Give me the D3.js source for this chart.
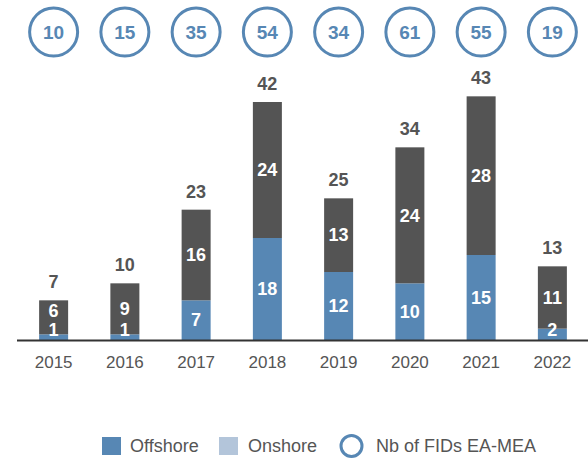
<!DOCTYPE html>
<html>
<head>
<meta charset="utf-8">
<script src="https://cdn.jsdelivr.net/npm/d3@7"></script>
<style>
  body { margin: 0; background: #fff; }
  svg { display: block; font-family: "Liberation Sans Narrow", "Arial Narrow", "Liberation Sans", sans-serif; }
</style>
</head>
<body>
<div id="app"></div>
<script>
const years = ['2015', '2016', '2017', '2018', '2019', '2020', '2021', '2022'];
const offshore = [1, 1, 7, 18, 12, 10, 15, 2];
const onshore = [6, 9, 16, 24, 13, 24, 28, 11];
const fids = [10, 15, 35, 54, 34, 61, 55, 19];

const width = 588;
const height = 460;
const blue = '#5787b4';
const gray = '#545454';
const textGray = '#555555';

const svg = d3.select('#app').append('svg')
	.attr('width', width)
	.attr('height', height);

const x = d3.scaleBand()
	.domain(years)
	.range([18, 588])
	.paddingInner(0.593)
	.paddingOuter(0.2965);

const y = d3.scaleLinear()
	.domain([0, 42])
	.range([340, 102]);

const rows = years.map((year, i) => ({
	year,
	offshore: offshore[i],
	onshore: onshore[i],
	total: offshore[i] + onshore[i],
	fids: fids[i],
}));

// bars
const bar = svg.selectAll('g.bar')
	.data(rows)
	.enter()
	.append('g')
	.attr('class', 'bar');

bar.append('rect')
	.attr('x', (d) => x(d.year))
	.attr('width', x.bandwidth())
	.attr('y', (d) => y(d.offshore))
	.attr('height', (d) => y(0) - y(d.offshore))
	.attr('fill', blue);

bar.append('rect')
	.attr('x', (d) => x(d.year))
	.attr('width', x.bandwidth())
	.attr('y', (d) => y(d.total))
	.attr('height', (d) => y(d.offshore) - y(d.total))
	.attr('fill', gray);

const cx = (d) => x(d.year) + x.bandwidth() / 2;
const offLabelY = (d) => Math.min((y(0) + y(d.offshore)) / 2, y(0) - 10);
const onLabelY = (d) => Math.min((y(d.offshore) + y(d.total)) / 2, offLabelY(d) - 19);

bar.append('text')
	.attr('x', cx)
	.attr('y', offLabelY)
	.attr('dy', '0.35em')
	.attr('text-anchor', 'middle')
	.attr('fill', 'white')
	.attr('font-weight', 'bold')
	.attr('font-size', 18)
	.text((d) => d.offshore);

bar.append('text')
	.attr('x', cx)
	.attr('y', onLabelY)
	.attr('dy', '0.35em')
	.attr('text-anchor', 'middle')
	.attr('fill', 'white')
	.attr('font-weight', 'bold')
	.attr('font-size', 18)
	.text((d) => d.onshore);

bar.append('text')
	.attr('x', cx)
	.attr('y', (d) => y(d.total) - 12)
	.attr('text-anchor', 'middle')
	.attr('fill', textGray)
	.attr('font-weight', 'bold')
	.attr('font-size', 18)
	.text((d) => d.total);

// circles
bar.append('circle')
	.attr('cx', cx)
	.attr('cy', 32)
	.attr('r', 24)
	.attr('fill', 'white')
	.attr('stroke', blue)
	.attr('stroke-width', 3);

bar.append('text')
	.attr('x', cx)
	.attr('y', 32)
	.attr('dy', '0.35em')
	.attr('text-anchor', 'middle')
	.attr('fill', blue)
	.attr('font-weight', 'bold')
	.attr('font-size', 19)
	.text((d) => d.fids);

// x axis
const xAxis = svg.append('g')
	.attr('transform', `translate(0, ${y(0)})`)
	.call(d3.axisBottom(x).tickSize(0).tickPadding(16));
xAxis.select('.domain')
	.attr('d', 'M17,0.5H588')
	.attr('stroke', '#333')
	.attr('stroke-width', 2);
xAxis.selectAll('text')
	.attr('font-family', null)
	.attr('font-size', 17)
	.attr('fill', textGray);

// legend
const legend = svg.append('g').attr('transform', 'translate(0, 446)');
legend.append('rect').attr('x', 102).attr('y', -9).attr('width', 19).attr('height', 18).attr('fill', blue);
legend.append('text').attr('x', 130).attr('dy', '0.35em').attr('font-size', 18).attr('fill', textGray).text('Offshore');
legend.append('rect').attr('x', 219).attr('y', -9).attr('width', 19).attr('height', 18).attr('fill', '#b3c5da');
legend.append('text').attr('x', 248).attr('dy', '0.35em').attr('font-size', 18).attr('fill', textGray).text('Onshore');
legend.append('circle').attr('cx', 351.5).attr('cy', 0).attr('r', 10.5).attr('fill', 'white').attr('stroke', blue).attr('stroke-width', 3);
legend.append('text').attr('x', 376).attr('dy', '0.35em').attr('font-size', 18).attr('fill', textGray).text('Nb of FIDs EA-MEA');
</script>
</body>
</html>
